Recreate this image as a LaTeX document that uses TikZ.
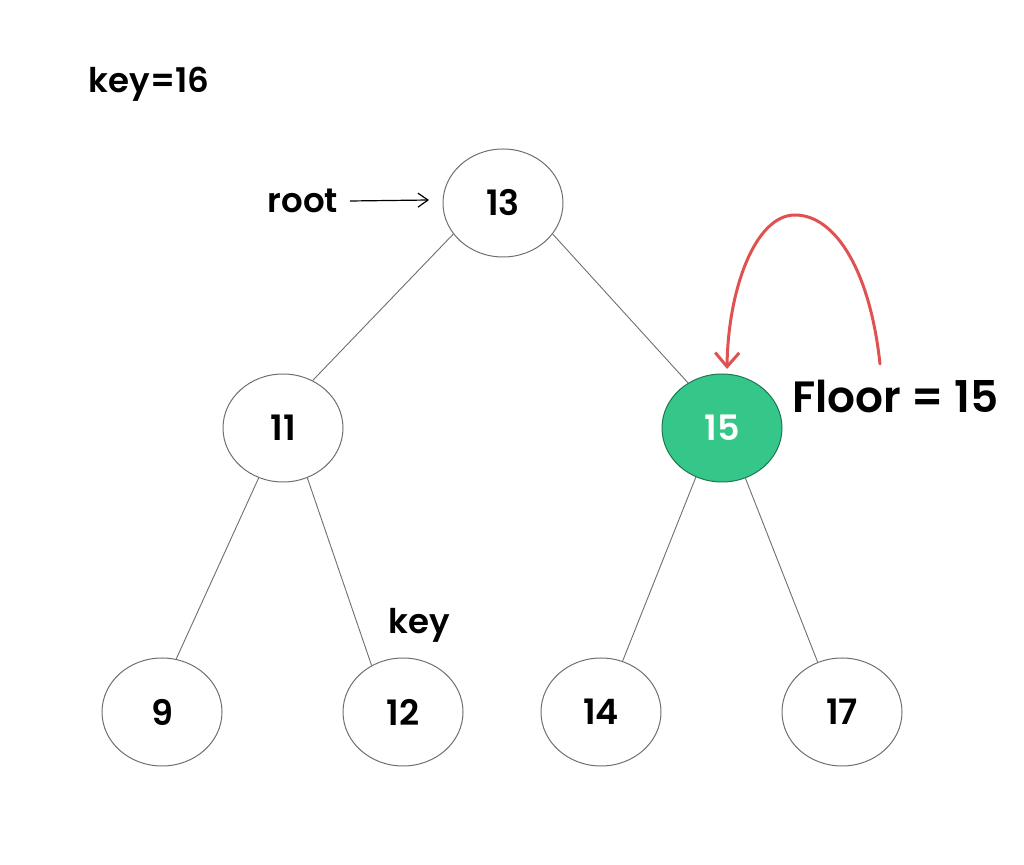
\documentclass[tikz,border=0pt]{standalone}
\usepackage{fontspec}
\setmainfont{Poppins}[BoldFont={Poppins SemiBold}]
\usetikzlibrary{arrows.meta,shapes.geometric}
\definecolor{nodegreen}{RGB}{52,199,137}
\definecolor{arcred}{RGB}{224,82,82}
\definecolor{edgegray}{RGB}{110,110,110}
\begin{document}
\begin{tikzpicture}[x=0.5pt,y=-0.5pt,
  treenode/.style={ellipse,draw=edgegray,line width=0.5pt,minimum width=60pt,minimum height=54pt,inner sep=0pt,font=\fontsize{17.5}{20}\selectfont\bfseries},
  edge/.style={draw=edgegray,line width=0.45pt},
  lbl/.style={font=\fontsize{17}{20}\selectfont\bfseries,inner sep=0pt}]
\useasboundingbox (0,0) rectangle (1024,865);
\node[treenode] (n13) at (503,203) {13};
\node[treenode] (n11) at (283,428) {11};
\node[treenode,fill=nodegreen,draw=nodegreen!60!black,text=white] (n15) at (722,428) {15};
\node[treenode] (n9) at (162,712) {9};
\node[treenode] (n12) at (403,712) {12};
\node[treenode] (n14) at (601,712) {14};
\node[treenode] (n17) at (842,712) {17};
\draw[edge] (n13.212) -- (n11.58);
\draw[edge] (n13.328) -- (n15.127);
\draw[edge] (n11.244) -- (n9.75);
\draw[edge] (n11.296) -- (n12.124);
\draw[edge] (n15.242) -- (n14.67);
\draw[edge] (n15.295) -- (n17.116);
\node[lbl] (keyval) at (149,84) {key=16};
\node[lbl] (root) at (303,201) {root};
\coordinate (rootstart) at (350,201);
\coordinate (rootend) at (429,200);
\draw[line width=0.6pt,-{Straight Barb[length=5pt,width=7pt]}] (rootstart) -- (rootend);
\node[lbl] (keylbl) at (419,625) {key};
\node[font=\fontsize{21.9}{25}\selectfont\bfseries,inner sep=0pt,anchor=west] (floor) at (792,396) {Floor = 15};
\coordinate (arcstart) at (880,364);
\coordinate (arcend) at (727,369);
\draw[arcred,line width=1.5pt,line cap=round,-{Straight Barb[length=7pt,width=12pt]}]
  (arcstart) .. controls (870,270) and (835,215) .. (795,215)
  .. controls (755,215) and (728,290) .. (arcend);
\end{tikzpicture}
\end{document}
